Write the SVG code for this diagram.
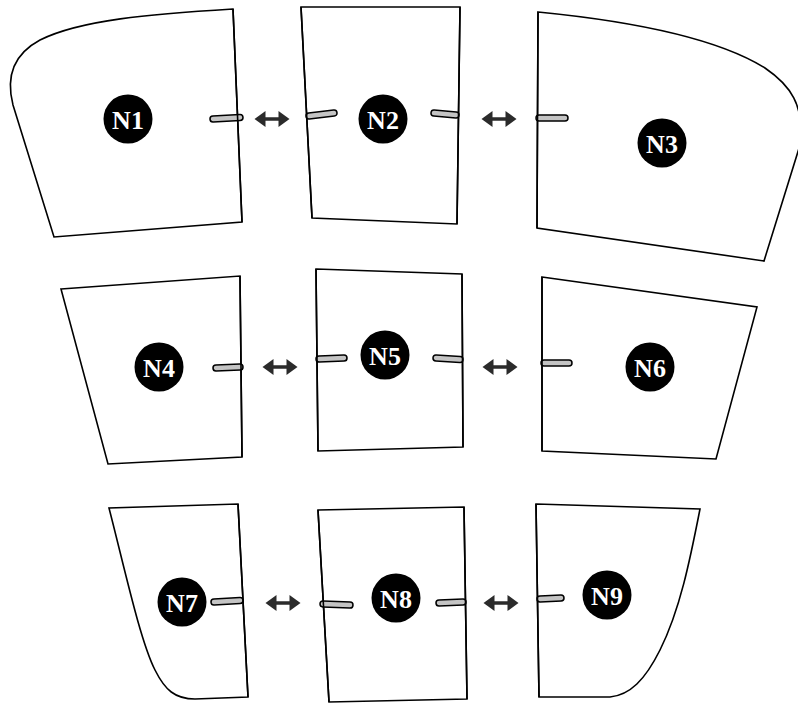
<svg xmlns="http://www.w3.org/2000/svg" xmlns:xlink="http://www.w3.org/1999/xlink" width="798" height="703" viewBox="0 0 798 703">
<style>
.frame{fill:#fff;stroke:#000;stroke-width:1.6;stroke-linejoin:miter}
.stubo{stroke:#000;stroke-width:7.5;stroke-linecap:round;fill:none}
.stubi{stroke:#c4c4c4;stroke-width:4.5;stroke-linecap:round;fill:none}
.badge{fill:#000}
.lbl{fill:#fff;font-family:"Liberation Serif","DejaVu Serif",serif;font-weight:bold;font-size:26px;text-anchor:middle;dominant-baseline:central}
.arr{fill:#2b2b2b}
</style>
<defs>
<path id="dbl" class="arr" d="M-17.5,0 L-6.5,-8 L-6.5,-1.7 L6.5,-1.7 L6.5,-8 L17.5,0 L6.5,8 L6.5,1.7 L-6.5,1.7 L-6.5,8 Z"/>
</defs>
<g id="nodes">
<g id="n1">
<path class="frame" d="M233,9 L242,222 L54,237 L13,105 C6,78 12,55 40,40 C80,20 150,14 233,9 Z"/>
</g>
<g id="n2">
<path class="frame" d="M301,7 L460,7 L457,224 L312,218 Z"/>
</g>
<g id="n3">
<path class="frame" d="M538,12 C640,22 720,40 765,68 C790,85 805,105 800,145 L764,261 L537,228 Z"/>
</g>
<g id="n4">
<path class="frame" d="M61,289 L240,276 L242,457 L108,464 Z"/>
</g>
<g id="n5">
<path class="frame" d="M316,269 L462,274 L463,447 L318,451 Z"/>
</g>
<g id="n6">
<path class="frame" d="M542,277 L757,307 L716,459 L542,451 Z"/>
</g>
<g id="n7">
<path class="frame" d="M109,508 C125,570 140,640 155,670 C165,690 175,699 195,699 L248,697 L238,504 Z"/>
</g>
<g id="n8">
<path class="frame" d="M318,510 L464,507 L467,699 L329,702 Z"/>
</g>
<g id="n9">
<path class="frame" d="M536,504 L700,509 C690,560 680,610 660,650 C645,680 630,695 610,697 L539,697 Z"/>
</g>
</g>
<g id="connectors">
<g id="stubs">
<path class="stubo" d="M213,119 L240,117.5 M309,116 L334,113 M434,113 L456,115 M539,118 L565,118 M216,368 L240,367 M319,359 L344,358 M436,358 L460,359.5 M544,363 L569,363 M214,602 L240,600.5 M323,604 L350,605 M439,603 L463,602 M540,599 L561,598"/>
<path class="stubi" d="M213,119 L240,117.5 M309,116 L334,113 M434,113 L456,115 M539,118 L565,118 M216,368 L240,367 M319,359 L344,358 M436,358 L460,359.5 M544,363 L569,363 M214,602 L240,600.5 M323,604 L350,605 M439,603 L463,602 M540,599 L561,598"/>
</g>
<path class="frame" style="fill:none" d="M233,9 L242,222 M301,7 L312,218 M460,7 L457,224 M538,12 L537,228 M240,276 L242,457 M316,269 L318,451 M462,274 L463,447 M542,277 L542,451 M238,504 L248,697 M318,510 L329,702 M464,507 L467,699 M536,504 L539,697"/>
<use href="#dbl" x="272" y="119"/>
<use href="#dbl" x="499" y="119"/>
<use href="#dbl" x="280" y="367"/>
<use href="#dbl" x="500" y="367"/>
<use href="#dbl" x="283" y="603"/>
<use href="#dbl" x="501" y="603"/>
</g>
<g id="badges">
<g id="b1"><circle class="badge" cx="128" cy="119" r="24.5"/><text class="lbl" x="128" y="120">N1</text></g>
<g id="b2"><circle class="badge" cx="383" cy="119" r="24.5"/><text class="lbl" x="383" y="120">N2</text></g>
<g id="b3"><circle class="badge" cx="662" cy="143" r="24.5"/><text class="lbl" x="662" y="144">N3</text></g>
<g id="b4"><circle class="badge" cx="159" cy="367" r="24.5"/><text class="lbl" x="159" y="368">N4</text></g>
<g id="b5"><circle class="badge" cx="385" cy="355" r="24.5"/><text class="lbl" x="385" y="356">N5</text></g>
<g id="b6"><circle class="badge" cx="650" cy="367" r="24.5"/><text class="lbl" x="650" y="368">N6</text></g>
<g id="b7"><circle class="badge" cx="182" cy="602" r="24.5"/><text class="lbl" x="182" y="603">N7</text></g>
<g id="b8"><circle class="badge" cx="396" cy="598" r="24.5"/><text class="lbl" x="396" y="599">N8</text></g>
<g id="b9"><circle class="badge" cx="607" cy="595" r="24.5"/><text class="lbl" x="607" y="596">N9</text></g>
</g>
</svg>
